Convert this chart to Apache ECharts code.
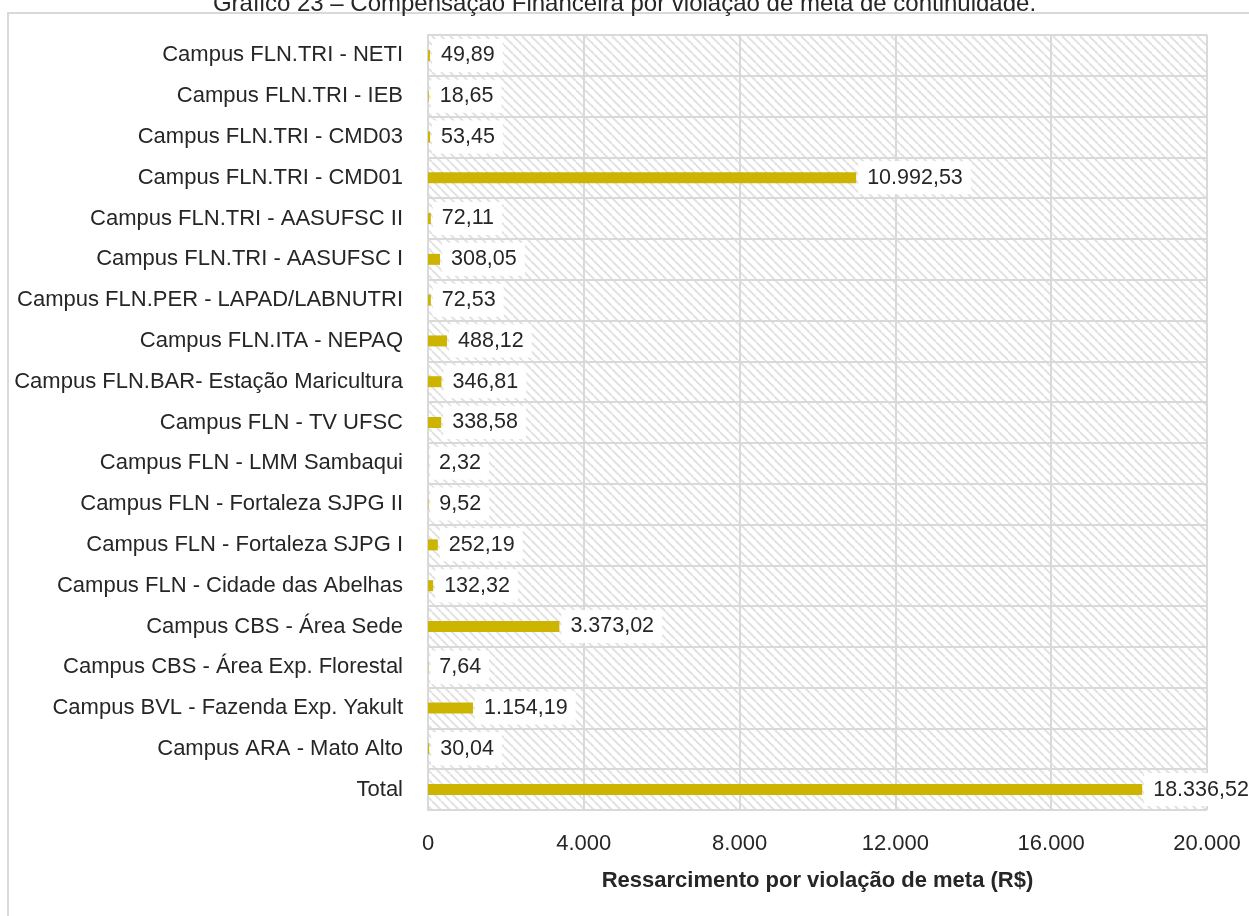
<!DOCTYPE html>
<html>
<head>
<meta charset="utf-8">
<script src="https://cdn.jsdelivr.net/npm/echarts@6/dist/echarts.min.js"></script>
<style>
html,body{margin:0;padding:0;background:#fff;}
#main{width:1249px;height:916px;}
</style>
</head>
<body>
<div id="main"></div>
<script>
const categories = [
  'Campus FLN.TRI - NETI',
  'Campus FLN.TRI - IEB',
  'Campus FLN.TRI - CMD03',
  'Campus FLN.TRI - CMD01',
  'Campus FLN.TRI - AASUFSC II',
  'Campus FLN.TRI - AASUFSC I',
  'Campus FLN.PER - LAPAD/LABNUTRI',
  'Campus FLN.ITA - NEPAQ',
  'Campus FLN.BAR- Estação Maricultura',
  'Campus FLN - TV UFSC',
  'Campus FLN - LMM Sambaqui',
  'Campus FLN - Fortaleza SJPG II',
  'Campus FLN - Fortaleza SJPG I',
  'Campus FLN - Cidade das Abelhas',
  'Campus CBS - Área Sede',
  'Campus CBS - Área Exp. Florestal',
  'Campus BVL - Fazenda Exp. Yakult',
  'Campus ARA - Mato Alto',
  'Total'
];
const values = [49.89, 18.65, 53.45, 10992.53, 72.11, 308.05, 72.53, 488.12, 346.81, 338.58, 2.32, 9.52, 252.19, 132.32, 3373.02, 7.64, 1154.19, 30.04, 18336.52];
const titleText = 'Gráfico 23 – Compensação Financeira por violação de meta de continuidade.';
const axisName = 'Ressarcimento por violação de meta (R$)';

function fmtThousands(intStr){
  return intStr.replace(/\B(?=(\d{3})+(?!\d))/g, '.');
}
function fmtValue(v){
  const parts = v.toFixed(2).split('.');
  return fmtThousands(parts[0]) + ',' + parts[1];
}
function fmtTick(v){
  return fmtThousands(String(Math.round(v)));
}

const FONT = '"Liberation Sans", Arial, sans-serif';
const TXT = '#262626';
const GRIDC = '#d9d9d9';

// hatch pattern
const s = 9;
const pc = document.createElement('canvas');
pc.width = s; pc.height = s;
const ctx = pc.getContext('2d');
ctx.fillStyle = '#ffffff';
ctx.fillRect(0,0,s,s);
ctx.strokeStyle = '#e2e2e2';
ctx.lineWidth = 2;
for (let k=-1;k<=1;k++){
  ctx.beginPath();
  ctx.moveTo(k*s, 0);
  ctx.lineTo(k*s + s, s);
  ctx.stroke();
}

const chart = echarts.init(document.getElementById('main'), null, {renderer:'canvas'});
chart.setOption({
  backgroundColor: '#ffffff',
  animation: false,
  title: {
    text: titleText,
    left: 'center',
    top: -13,
    textStyle: {fontFamily: FONT, fontSize: 24, fontWeight: 'normal', color: TXT}
  },
  graphic: [{
    type: 'rect',
    shape: {x: 8, y: 13, width: 1300, height: 1000},
    style: {fill: 'none', stroke: GRIDC, lineWidth: 2},
    silent: true,
    z: -1
  }],
  grid: {
    left: 428, right: 42, top: 35, bottom: 106,
    outerBoundsMode: 'none',
    containLabel: false,
    show: true,
    backgroundColor: {image: pc, repeat: 'repeat'},
    borderWidth: 0
  },
  xAxis: {
    type: 'value',
    min: 0, max: 20000, interval: 4000,
    name: axisName,
    nameLocation: 'middle',
    nameGap: 60,
    nameTextStyle: {fontFamily: FONT, fontSize: 22, fontWeight: 'bold', color: TXT},
    axisLine: {show: false},
    axisTick: {show: false},
    axisLabel: {fontFamily: FONT, fontSize: 22, color: TXT, margin: 23, formatter: fmtTick},
    splitLine: {show: true, lineStyle: {color: GRIDC, width: 2}}
  },
  yAxis: {
    type: 'category',
    inverse: true,
    data: categories,
    axisLine: {show: true, lineStyle: {color: GRIDC, width: 2}},
    axisTick: {show: false},
    axisLabel: {fontFamily: FONT, fontSize: 22, color: TXT, margin: 25},
    splitLine: {show: true, lineStyle: {color: GRIDC, width: 2}}
  },
  series: [{
    type: 'bar',
    data: values,
    barWidth: 11,
    itemStyle: {color: '#cdb400'},
    label: {
      show: true,
      position: 'right',
      distance: 2,
      formatter: p => fmtValue(p.value),
      fontFamily: FONT,
      fontSize: 21.5,
      color: TXT,
      backgroundColor: '#ffffff',
      padding: [6, 8, 5, 9]
    }
  }]
});
</script>
</body>
</html>
